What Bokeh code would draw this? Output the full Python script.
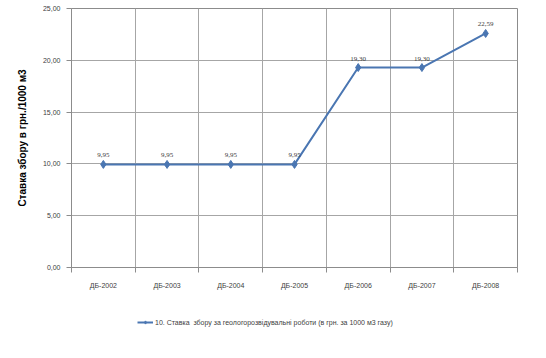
from bokeh.plotting import figure
from bokeh.models import FixedTicker, ColumnDataSource, Legend, LegendItem, LabelSet, Range1d
from bokeh.layouts import column
from bokeh.embed import file_html
from bokeh.resources import INLINE

categories = ["ДБ-2002", "ДБ-2003", "ДБ-2004", "ДБ-2005", "ДБ-2006", "ДБ-2007", "ДБ-2008"]
values = [9.95, 9.95, 9.95, 9.95, 19.30, 19.30, 22.59]
value_labels = ["9,95", "9,95", "9,95", "9,95", "19,30", "19,30", "22,59"]
y_ticks = [0, 5, 10, 15, 20, 25]
y_tick_labels = ["0,00", "5,00", "10,00", "15,00", "20,00", "25,00"]
series_name = "10. Ставка  збору за геологорозвідувальні роботи (в грн. за 1000 м3 газу)"
y_title = "Ставка збору в грн./1000 м3"

xs = [i + 0.5 for i in range(len(categories))]
src = ColumnDataSource(dict(x=xs, y=values, lab=value_labels))

p = figure(width=530, height=292, output_backend="svg", toolbar_location=None,
           x_range=Range1d(0, len(categories)), y_range=Range1d(0, 25),
           min_border_left=71, min_border_right=13, min_border_top=8, min_border_bottom=25)
p.background_fill_color = "white"
p.border_fill_color = "white"
p.outline_line_color = "#8c8c8c"
p.outline_line_width = 1

line_color = "#4a76b2"
r_line = p.line("x", "y", source=src, line_color=line_color, line_width=2)
r_mark = p.scatter("x", "y", source=src, marker="diamond", size=8, fill_color=line_color,
                   line_color=line_color)

labels = LabelSet(x="x", y="y", text="lab", source=src, x_offset=0, y_offset=7,
                  text_align="center", text_font_size="7px", text_color="#404040",
                  text_font="Liberation Sans")
p.add_layout(labels)

# x axis: labels at centers, ticks at boundaries
p.xaxis.ticker = FixedTicker(ticks=xs, minor_ticks=list(range(len(categories) + 1)))
p.xaxis.major_label_overrides = {x: c for x, c in zip(xs, categories)}
p.xaxis.major_tick_line_color = None
p.xaxis.minor_tick_in = 0
p.xaxis.minor_tick_out = 5
p.xaxis.minor_tick_line_color = "#8c8c8c"
p.xaxis.axis_line_color = "#8c8c8c"
p.xaxis.major_label_text_font_size = "7px"
p.xaxis.major_label_text_color = "#404040"
p.xaxis.major_label_text_font = "Liberation Sans"
p.xaxis.major_label_standoff = 8

p.xgrid.ticker = FixedTicker(ticks=list(range(len(categories) + 1)))
p.xgrid.grid_line_color = "#a6a6a6"

p.yaxis.ticker = FixedTicker(ticks=y_ticks)
p.yaxis.major_label_overrides = {t: l for t, l in zip(y_ticks, y_tick_labels)}
p.yaxis.minor_tick_line_color = None
p.yaxis.major_tick_in = 0
p.yaxis.major_tick_out = 5
p.yaxis.major_tick_line_color = "#8c8c8c"
p.yaxis.axis_line_color = "#8c8c8c"
p.yaxis.major_label_text_font_size = "7px"
p.yaxis.major_label_text_color = "#404040"
p.yaxis.major_label_text_font = "Liberation Sans"
p.yaxis.major_label_standoff = 6
p.yaxis.axis_label = y_title
p.yaxis.axis_label_text_font = "Liberation Sans"
p.yaxis.axis_label_text_font_size = "10px"
p.yaxis.axis_label_text_font_style = "bold"
p.yaxis.axis_label_text_color = "black"
p.yaxis.axis_label_standoff = 12

p.ygrid.grid_line_color = "#a6a6a6"

# legend strip below the chart (sample glyph kept outside the visible range)
p2 = figure(width=530, height=50, output_backend="svg", toolbar_location=None,
            x_range=Range1d(0, 1), y_range=Range1d(0, 1),
            x_axis_type=None, y_axis_type=None,
            min_border_left=0, min_border_right=0, min_border_top=0, min_border_bottom=0)
p2.outline_line_color = None
p2.xgrid.visible = False
p2.ygrid.visible = False
sample = ColumnDataSource(dict(x=[-10, -9], y=[-10, -9]))
l_line = p2.line("x", "y", source=sample, line_color=line_color, line_width=2)
l_mark = p2.scatter("x", "y", source=sample, marker="diamond", size=7,
                    fill_color=line_color, line_color=line_color)

legend = Legend(items=[LegendItem(label=series_name, renderers=[l_line, l_mark])],
                orientation="horizontal", border_line_color=None, background_fill_alpha=0,
                label_text_font_size="7px", label_text_font="Liberation Sans",
                label_text_color="#404040", glyph_width=16, glyph_height=8,
                margin=0, padding=2, label_standoff=2, location=(66, 16))
p2.add_layout(legend)

layout = column(p, p2, spacing=0)
open("out.html", "w").write(file_html(layout, INLINE))
